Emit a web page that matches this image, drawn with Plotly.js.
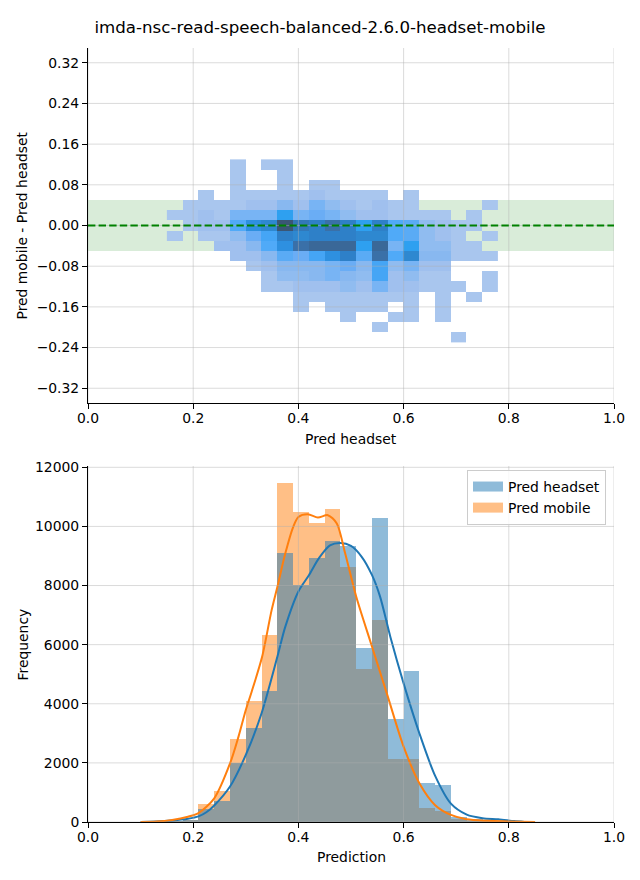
<!DOCTYPE html>
<html><head><meta charset="utf-8">
<script src="https://cdn.plot.ly/plotly-3.0.1.min.js"></script>
<style>html,body{margin:0;padding:0;background:#fff}#chart{width:640px;height:880px}</style>
</head><body><div id="chart"></div>
<script>
const chartTitle = 'imda-nsc-read-speech-balanced-2.6.0-headset-mobile';

// ---- top: 2D histogram (Pred headset vs difference) ----
const hmX = [0.165,0.195,0.225,0.255,0.285,0.315,0.345,0.375,0.405,0.435,0.465,0.495,0.525,0.555,0.585,0.615,0.645,0.675,0.705,0.735,0.765];
const hmY = [0.12,0.10,0.08,0.06,0.04,0.02,0.00,-0.02,-0.04,-0.06,-0.08,-0.10,-0.12,-0.14,-0.16,-0.18,-0.20,-0.22];
const n = null;
const hmZ = [
  [n,n,n,n,1,n,1,1,n,n,n,n,n,n,n,n,n,n,n,n,n],
  [n,n,n,n,1,n,n,1,n,n,n,n,n,n,n,n,n,n,n,n,n],
  [n,n,n,n,1,n,n,1,n,1,1,n,n,n,n,n,n,n,n,n,n],
  [n,n,1,n,1,1,1,1,1,1.5,1,1,1,1,n,1,n,n,n,n,n],
  [n,1,1,1,1,1.5,1.5,2.5,1.5,3,2,1.5,1,1.5,1,1,n,n,n,n,1],
  [1,1,1.5,1,3,3,3,6,3,3.5,3,2,1.5,1.5,1,1,1,1,n,1,n],
  [n,1,1.5,1.5,4.5,6.5,7,10,8,7.5,8.5,7.5,6,7.5,4.5,4,2,1.5,1,1,n],
  [1,n,1,1,2,3.5,5,7.5,7,7.5,7.5,7.5,7,7,4.5,4,2,1.5,1,n,1],
  [n,n,n,1.5,1.5,2.5,4.5,6.5,8.5,9,9,9,6,9,3,6,2,2,1,1,n],
  [n,n,n,n,1.5,1.5,2.5,4,3.5,5,6.5,7.5,4,8.5,4.5,7,2.5,2.5,1,1,1],
  [n,n,n,n,n,1,1.5,2.5,2.5,2.5,3,3.5,2.5,5,2,3,1.5,1.5,n,n,n],
  [n,n,n,n,n,n,1,2,2,2.5,3,2.5,2,5,1.5,2,1,1,n,n,1],
  [n,n,n,n,n,n,1,1,1.5,1.5,1.5,2,1.5,3,1.5,1.5,1,1,1,n,1],
  [n,n,n,n,n,n,n,n,1,1,1,1,1,1,1,1,n,1,n,1,n],
  [n,n,n,n,n,n,n,n,1,n,1,1,1,1,n,1,n,1,n,n,n],
  [n,n,n,n,n,n,n,n,n,n,n,1,n,n,1,1,n,1,n,n,n],
  [n,n,n,n,n,n,n,n,n,n,n,n,n,1,n,n,n,n,n,n,n],
  [n,n,n,n,n,n,n,n,n,n,n,n,n,n,n,n,n,n,1,n,n]
];
const bandLimits = [-0.05, 0.05];

// ---- bottom: histograms + KDE ----
const binCenters = [0.135,0.165,0.195,0.225,0.255,0.285,0.315,0.345,0.375,0.405,0.435,0.465,0.495,0.525,0.555,0.585,0.615,0.645,0.675,0.705,0.735,0.765,0.795,0.825];
const headsetCounts = [5,20,60,430,710,1980,3190,4440,9090,8010,8930,9500,9330,5880,10280,3480,5100,1320,1250,180,90,50,20,0];
const mobileCounts  = [5,25,80,620,1050,2800,4100,6320,11470,10480,10100,10600,8620,5170,6830,2140,2140,480,380,90,40,25,10,5];

const kdeHeadsetX = [0.10,0.13,0.16,0.19,0.21,0.225,0.24,0.27,0.30,0.33,0.36,0.375,0.40,0.42,0.44,0.46,0.48,0.50,0.52,0.54,0.555,0.575,0.60,0.63,0.66,0.69,0.72,0.75,0.78,0.81,0.83];
const kdeHeadsetY = [0,15,50,110,190,330,560,1200,2270,3680,5590,6600,7800,8350,8950,9360,9440,9340,8980,8350,7640,6250,4690,3000,1560,620,250,130,90,30,0];
const kdeMobileX = [0.10,0.13,0.16,0.19,0.21,0.24,0.27,0.286,0.30,0.311,0.331,0.349,0.36,0.375,0.39,0.40,0.418,0.437,0.456,0.473,0.489,0.51,0.54,0.57,0.60,0.63,0.66,0.69,0.72,0.76,0.80,0.85];
const kdeMobileY = [0,15,70,180,300,800,1980,2880,3790,4400,5590,7160,7950,9080,9980,10320,10410,10300,10380,10100,9080,7620,5930,4240,2550,1310,570,240,90,40,20,0];

const topXTicks = [0,0.2,0.4,0.6,0.8,1.0];
const topYTicks = [-0.32,-0.24,-0.16,-0.08,0,0.08,0.16,0.24,0.32];
const botXTicks = [0,0.2,0.4,0.6,0.8,1.0];
const botYTicks = [0,2000,4000,6000,8000,10000,12000];

const FONT = 'DejaVu Sans';
const FS = 13.9;
const BLUE = '#1f77b4', ORANGE = '#ff7f0e';

const hmColors = [
  [0/9,'#a9c6ee'],[0.5/9,'#a0c0ee'],[1/9,'#90bcf0'],[1.5/9,'#88b8f0'],[2/9,'#78b4f4'],
  [2.5/9,'#6aadf5'],[3/9,'#5aabf5'],[3.5/9,'#50aaf8'],[4/9,'#45a5f5'],[5/9,'#2ea0f0'],
  [5.5/9,'#2e90e0'],[6/9,'#2e88d0'],[6.5/9,'#2e80c8'],[7/9,'#3278b8'],[7.5/9,'#3a70a8'],
  [8/9,'#3a6898'],[1,'#3b5675']
];

const traces = [
  {type:'heatmap', x: hmX, y: hmY.slice().reverse(), z: hmZ.slice().reverse(),
   zmin:1, zmax:10, colorscale: hmColors, showscale:false, hoverongaps:false,
   xaxis:'x', yaxis:'y'},
  {type:'bar', x: binCenters, y: mobileCounts, width: 0.03, name:'Pred mobile',
   marker:{color:'rgba(255,127,14,0.5)', line:{width:0}}, showlegend:false, xaxis:'x2', yaxis:'y2'},
  {type:'bar', x: binCenters, y: headsetCounts, width: 0.03, name:'Pred headset',
   marker:{color:'rgba(31,119,180,0.5)', line:{width:0}}, showlegend:false, xaxis:'x2', yaxis:'y2'},
  {type:'scatter', mode:'lines', x: kdeHeadsetX, y: kdeHeadsetY, line:{color:BLUE, width:2, shape:'spline', smoothing:0.8},
   showlegend:false, xaxis:'x2', yaxis:'y2'},
  {type:'scatter', mode:'lines', x: kdeMobileX, y: kdeMobileY, line:{color:ORANGE, width:2, shape:'spline', smoothing:0.8},
   showlegend:false, xaxis:'x2', yaxis:'y2'},
  {type:'scatter', mode:'lines', x:[null], y:[null], name:'Pred headset', line:{color:'rgba(31,119,180,0.5)', width:10},
   xaxis:'x2', yaxis:'y2', legendrank:1},
  {type:'scatter', mode:'lines', x:[null], y:[null], name:'Pred mobile', line:{color:'rgba(255,127,14,0.5)', width:10},
   xaxis:'x2', yaxis:'y2', legendrank:2}
];

const GRID = 'rgba(176,176,176,0.45)';
const shapes = [];
shapes.push({type:'rect', xref:'x domain', yref:'y', x0:0, x1:1, y0:bandLimits[0], y1:bandLimits[1],
  fillcolor:'rgba(0,128,0,0.15)', line:{width:0}, layer:'below'});
topXTicks.forEach(v => shapes.push({type:'line', xref:'x', yref:'y domain', x0:v, x1:v, y0:0, y1:1, line:{color:GRID, width:1}, layer:'above'}));
topYTicks.forEach(v => shapes.push({type:'line', xref:'x domain', yref:'y', x0:0, x1:1, y0:v, y1:v, line:{color:GRID, width:1}, layer:'above'}));
shapes.push({type:'line', xref:'x domain', yref:'y', x0:0, x1:1, y0:0, y1:0, line:{color:'#008000', width:2, dash:'7.4px,3.2px'}, layer:'above'});
botXTicks.forEach(v => shapes.push({type:'line', xref:'x2', yref:'y2 domain', x0:v, x1:v, y0:0, y1:1, line:{color:GRID, width:1}, layer:'above'}));
botYTicks.forEach(v => shapes.push({type:'line', xref:'x2 domain', yref:'y2', x0:0, x1:1, y0:v, y1:v, line:{color:GRID, width:1}, layer:'above'}));

const axisCommon = {
  showline:true, linecolor:'#000', linewidth:1, mirror:false, showgrid:false, zeroline:false,
  ticks:'outside', ticklen:5, tickwidth:1, tickcolor:'#000', automargin:false,
  tickfont:{family:FONT, size:FS, color:'#000'}
};

const W = 640, H = 880;
const layout = {
  width: W, height: H,
  margin:{l:0,r:0,t:0,b:0},
  paper_bgcolor:'#fff', plot_bgcolor:'#fff',
  font:{family:FONT, size:FS, color:'#000'},
  title:{text: chartTitle, x:0.5, xref:'paper', xanchor:'center', y:(H-27)/H, yref:'paper', yanchor:'middle',
         font:{family:FONT, size:16.67, color:'#000'}},
  barmode:'overlay', bargap:0,
  showlegend:true,
  legend:{x:606/W, y:(H-470)/H, xanchor:'right', yanchor:'top', bgcolor:'rgba(255,255,255,0.8)',
          bordercolor:'#cccccc', borderwidth:1, font:{family:FONT, size:FS, color:'#000'}, traceorder:'normal'},
  xaxis: Object.assign({}, axisCommon, {domain:[88/W, 614/W], range:[0,1], tickvals: topXTicks, tickformat:'.1f', anchor:'y', ticklabelstandoff:-3}),
  yaxis: Object.assign({}, axisCommon, {domain:[(H-403)/H, (H-48)/H], range:[-0.349,0.349], tickvals: topYTicks, tickformat:'.2f', anchor:'x'}),
  xaxis2: Object.assign({}, axisCommon, {domain:[88/W, 614/W], range:[0,1], tickvals: botXTicks, tickformat:'.1f', anchor:'y2', ticklabelstandoff:-3}),
  yaxis2: Object.assign({}, axisCommon, {domain:[(H-822)/H, (H-466)/H], range:[0,12044], tickvals: botYTicks, tickformat:'d', anchor:'x2'}),
  shapes: shapes,
  annotations:[
    {text:'Pred headset', xref:'paper', yref:'paper', x:351/W, y:(H-439)/H, xanchor:'center', yanchor:'middle', showarrow:false, font:{family:FONT,size:FS,color:'#000'}},
    {text:'Pred mobile - Pred headset', xref:'paper', yref:'paper', x:22/W, y:(H-225.5)/H, xanchor:'center', yanchor:'middle', textangle:-90, showarrow:false, font:{family:FONT,size:FS,color:'#000'}},
    {text:'Prediction', xref:'paper', yref:'paper', x:351/W, y:(H-857)/H, xanchor:'center', yanchor:'middle', showarrow:false, font:{family:FONT,size:FS,color:'#000'}},
    {text:'Frequency', xref:'paper', yref:'paper', x:22/W, y:(H-644.5)/H, xanchor:'center', yanchor:'middle', textangle:-90, showarrow:false, font:{family:FONT,size:FS,color:'#000'}}
  ]
};

Plotly.newPlot('chart', traces, layout, {displayModeBar:false, staticPlot:true});
</script>
</body></html>
